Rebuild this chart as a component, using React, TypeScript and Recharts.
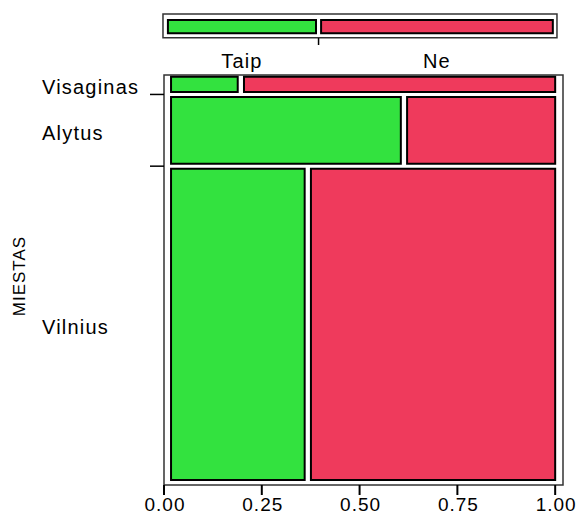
import React from 'react';
import { ComposedChart, XAxis, YAxis, ReferenceArea, ReferenceLine } from 'recharts';

// ---- data ----
const cities = ['Visaginas', 'Alytus', 'Vilnius'];
const responses = ['Taip', 'Ne'];
const taipCounts = [3, 45, 122];
const neCounts = [14, 29, 223];
const xTicks = [0, 0.25, 0.5, 0.75, 1];

// ---- layout constants (data units of the axes) ----
const X_MAX = 1.02;
const BAR_L = 0.018;
const BAR_R = 1.0;
const BAR_GAP = 0.016;
const ROW_T = 0.004;
const ROW_B = 0.988;
const ROW_GAP = 0.012;
const TOPBAR = {
  fx1: -0.0026, fx2: 1.0046, fy1: -0.1488, fy2: -0.091,
  l: 0.010, r: 0.994, gap: 0.013, y1: -0.134, y2: -0.1017,
  ty1: -0.0902, ty2: -0.0732,
};

const GREEN = '#33e23f';
const RED = '#ef3a5c';
const FONT = '"Liberation Sans", Arial, sans-serif';

const total = taipCounts.reduce((a, b) => a + b, 0) + neCounts.reduce((a, b) => a + b, 0);
const avail = ROW_B - ROW_T - ROW_GAP * (cities.length - 1);

let cum = 0;
const rows = cities.map((city, i) => {
  const n = taipCounts[i] + neCounts[i];
  const top = ROW_T + cum * avail + i * ROW_GAP;
  const share = n / total;
  cum += share;
  const bottom = top + share * avail;
  const p = taipCounts[i] / n;
  const greenEnd = BAR_L + p * (BAR_R - BAR_L - BAR_GAP);
  return { city, top, bottom, greenEnd, redStart: greenEnd + BAR_GAP, center: (top + bottom) / 2 };
});
const boundaries = rows.slice(0, -1).map((r, i) => (r.bottom + rows[i + 1].top) / 2);
const centers = rows.map((r) => r.center);

const taipTotal = taipCounts.reduce((a, b) => a + b, 0);
const topGreenEnd = TOPBAR.l + (taipTotal / total) * (TOPBAR.r - TOPBAR.l - TOPBAR.gap);
const topRedStart = topGreenEnd + TOPBAR.gap;
const topTick = (topGreenEnd + topRedStart) / 2;
const topCenters = [(TOPBAR.l + topGreenEnd) / 2, (topRedStart + TOPBAR.r) / 2];

const textStyle = { fontFamily: FONT, fontSize: 20, fill: '#000', letterSpacing: 1.2 };

const CityTick = (props: any) => {
  const { y, payload } = props;
  const v = payload.value;
  const ci = centers.findIndex((c) => Math.abs(c - v) < 1e-9);
  if (ci >= 0) {
    return (
      <text x={42} y={y + 10} textAnchor="start" style={textStyle}>
        {cities[ci]}
      </text>
    );
  }
  return <line x1={150} x2={164} y1={y} y2={y} stroke="#000" strokeWidth={1.5} />;
};

const TopTick = (props: any) => {
  const { x, payload } = props;
  const i = topCenters.findIndex((c) => Math.abs(c - payload.value) < 1e-9);
  return (
    <text x={x} y={68} textAnchor="middle" style={textStyle}>
      {responses[i]}
    </text>
  );
};

const BottomTick = (props: any) => {
  const { x, y, payload } = props;
  return (
    <text x={x + 1} y={y + 12} textAnchor="middle" style={{ ...textStyle, fontSize: 19, letterSpacing: 1 }}>
      {payload.value.toFixed(2)}
    </text>
  );
};

const YTitle = (props: any) => {
  const vb = props.viewBox || { x: 0, y: 75, width: 164, height: 410 };
  const cy = vb.y + vb.height / 2 - 4;
  return (
    <text
      transform={`translate(19, ${cy}) rotate(-90)`}
      textAnchor="middle"
      dominantBaseline="central"
      style={{ fontFamily: FONT, fontSize: 17, fill: '#000', letterSpacing: 1 }}
    >
      MIESTAS
    </text>
  );
};

const chartData = rows.map((r) => ({ x: r.greenEnd, y: r.center }));

export default function App() {
  return (
    <div style={{ position: 'absolute', left: 0, top: 0, background: '#fff' }}>
      <ComposedChart
        width={578}
        height={515}
        data={chartData}
        margin={{ top: 55, right: 15, bottom: 0, left: 0 }}
      >
        <XAxis
          type="number"
          dataKey="x"
          domain={[0, X_MAX]}
          ticks={xTicks}
          interval={0}
          allowDataOverflow
          axisLine={false}
          tickLine={{ stroke: '#000', strokeWidth: 2 }}
          tickSize={10}
          tickMargin={4}
          height={30}
          tick={<BottomTick />}
        />
        <XAxis
          xAxisId="top"
          orientation="top"
          type="number"
          dataKey="x"
          domain={[0, X_MAX]}
          ticks={topCenters}
          interval={0}
          allowDataOverflow
          axisLine={false}
          tickLine={false}
          height={20}
          tick={<TopTick />}
        />
        <YAxis
          type="number"
          dataKey="y"
          domain={[0, 1]}
          reversed
          allowDataOverflow
          ticks={[...boundaries, ...centers]}
          interval={0}
          width={164}
          axisLine={false}
          tickLine={false}
          tick={<CityTick />}
          label={<YTitle />}
        />
        {/* main frame */}
        <ReferenceArea x1={0} x2={X_MAX} y1={0} y2={1} fill="none" stroke="#333" strokeWidth={1.5} ifOverflow="visible" />
        {/* top marginal bar */}
        <ReferenceArea x1={TOPBAR.fx1} x2={TOPBAR.fx2} y1={TOPBAR.fy1} y2={TOPBAR.fy2} fill="none" stroke="#333" strokeWidth={1.5} ifOverflow="visible" />
        <ReferenceArea x1={TOPBAR.l} x2={topGreenEnd} y1={TOPBAR.y1} y2={TOPBAR.y2} fill={GREEN} fillOpacity={1} stroke="#000" strokeWidth={2} ifOverflow="visible" />
        <ReferenceArea x1={topRedStart} x2={TOPBAR.r} y1={TOPBAR.y1} y2={TOPBAR.y2} fill={RED} fillOpacity={1} stroke="#000" strokeWidth={2} ifOverflow="visible" />
        <ReferenceLine
          segment={[{ x: topTick, y: TOPBAR.ty1 }, { x: topTick, y: TOPBAR.ty2 }]}
          stroke="#000"
          strokeWidth={1.5}
          ifOverflow="visible"
        />
        {/* mosaic cells */}
        {rows.map((r) => (
          <ReferenceArea
            key={r.city + '-taip'}
            x1={BAR_L}
            x2={r.greenEnd}
            y1={r.top}
            y2={r.bottom}
            fill={GREEN}
            fillOpacity={1}
            stroke="#000"
            strokeWidth={2}
            ifOverflow="visible"
          />
        ))}
        {rows.map((r) => (
          <ReferenceArea
            key={r.city + '-ne'}
            x1={r.redStart}
            x2={BAR_R}
            y1={r.top}
            y2={r.bottom}
            fill={RED}
            fillOpacity={1}
            stroke="#000"
            strokeWidth={2}
            ifOverflow="visible"
          />
        ))}
      </ComposedChart>
    </div>
  );
}
